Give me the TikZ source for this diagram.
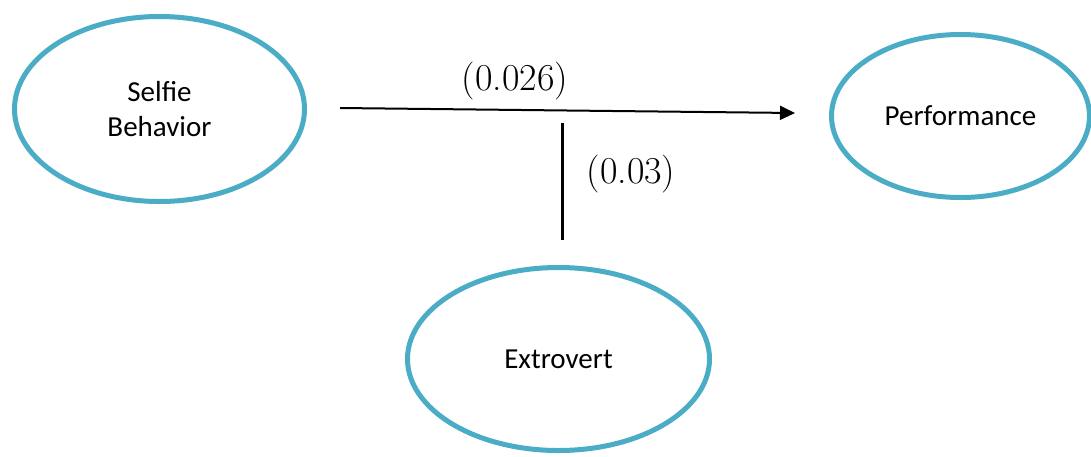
\documentclass[tikz,border=0pt]{standalone}
\usepackage{fontspec}
\newfontfamily\ovalfont{Carlito}
\usetikzlibrary{shapes.geometric, arrows.meta}
\definecolor{ovalblue}{HTML}{4BACC6}
\tikzset{
	oval/.style={ellipse, draw=ovalblue, line width=5pt, inner sep=0pt, align=center,
		font=\ovalfont\fontsize{29}{35}\selectfont},
	coef/.style={inner sep=0pt, font=\fontsize{38}{42}\selectfont}
}
\begin{document}
\begin{tikzpicture}[x=1pt, y=-1pt, >={Triangle[length=15pt, width=14pt]}, line join=round]
	\useasboundingbox (0,0) rectangle (1091,456);
	\node [oval, minimum width=290, minimum height=185] (selfie) at (159.5,109) {Selfie\\Behavior};
	\node [oval, minimum width=258, minimum height=163] (perf) at (960.5,116) {Performance};
	\node [oval, minimum width=302, minimum height=183] (extro) at (558.5,359) {Extrovert};
	\path (340,108) coordinate (S)
		(795,113) coordinate (P)
		(562,123) coordinate (M)
		(562,240) coordinate (E)
		;
	\draw [->, line width=2pt] (S)--(P);
	\draw [line width=3pt] (M)--(E);
	\node [coef] (b1) at (515,81) {(0.026)};
	\node [coef] (b2) at (631,174) {(0.03)};
\end{tikzpicture}
\end{document}
